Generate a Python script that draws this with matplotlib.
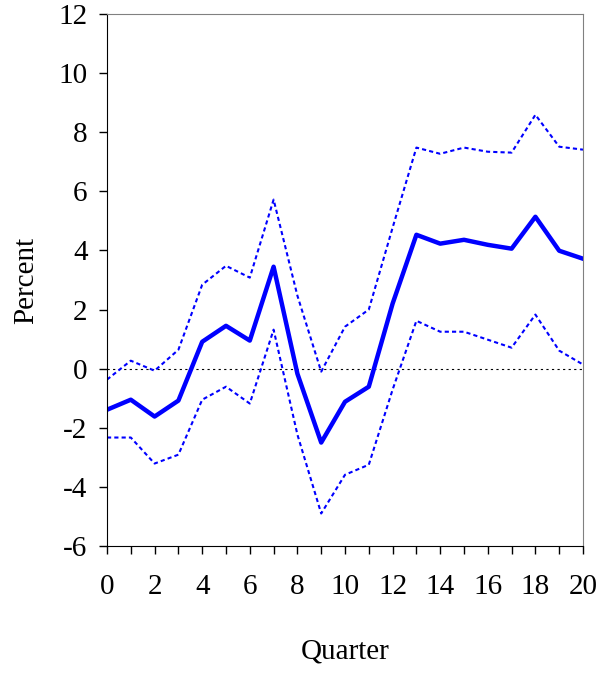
import matplotlib
matplotlib.use("Agg")
import matplotlib.pyplot as plt
import numpy as np

plt.rcParams["font.family"] = ["Liberation Serif", "DejaVu Serif"]
plt.rcParams["axes.unicode_minus"] = False

quarters = np.arange(0, 21)
mid = [-1.39, -1.05, -1.62, -1.08, 0.91, 1.45, 0.95, 3.45, -0.17, -2.5, -1.12,
       -0.61, 2.2, 4.53, 4.23, 4.36, 4.19, 4.06, 5.14, 3.99, 3.72]
upper = [-0.37, 0.27, -0.07, 0.64, 2.84, 3.48, 3.08, 5.72, 2.47, -0.1, 1.42,
         2.0, 4.77, 7.48, 7.27, 7.48, 7.34, 7.31, 8.59, 7.51, 7.41]
lower = [-2.33, -2.33, -3.21, -2.91, -1.05, -0.61, -1.18, 1.32, -2.23, -4.9, -3.59,
         -3.25, -0.71, 1.62, 1.25, 1.25, 0.98, 0.71, 1.83, 0.61, 0.14]

fig = plt.figure(figsize=(5.99, 6.73), dpi=100)
ax = fig.add_axes([107/599, 1-546/673, 476/599, 532/673])

ax.axhline(0, color="black", lw=0.8, ls=(0, (2, 3)))
ax.plot(quarters, mid, color="#0000ff", lw=3.2)
ax.plot(quarters, upper, color="#0000ff", lw=1.5, ls=(0, (2, 1.5)))
ax.plot(quarters, lower, color="#0000ff", lw=1.5, ls=(0, (2, 1.5)))

ax.set_xlim(0, 20)
ax.set_ylim(-6, 12)
ax.set_xticks(range(0, 21, 2))
ax.set_xticks(range(0, 21), minor=True)
ax.set_yticks(range(-6, 13, 2))
ax.tick_params(axis="both", labelsize=21, direction="out", length=6, width=1)
ax.tick_params(axis="x", which="minor", length=6, width=1)
ax.tick_params(axis="x", pad=14)
ax.tick_params(axis="y", pad=8)
for s in ["top", "right"]:
    ax.spines[s].set_color("#808080")
ax.set_xlabel("Quarter", fontsize=21, labelpad=28)
ax.set_ylabel("Percent", fontsize=21, labelpad=14)

fig.savefig("out.png", dpi=100, facecolor="white")
